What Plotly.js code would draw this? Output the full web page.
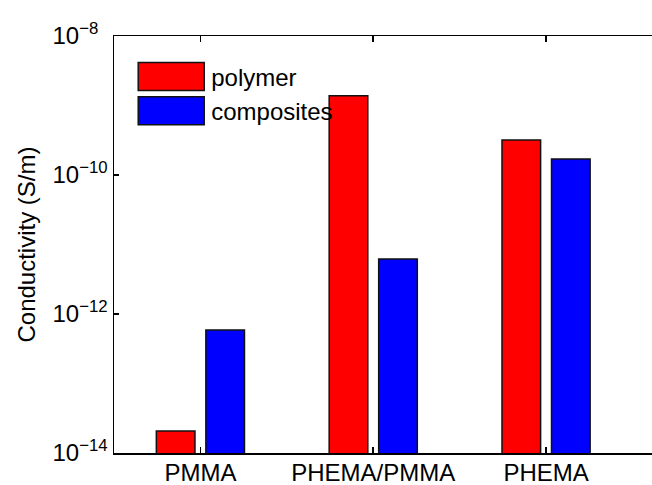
<!DOCTYPE html>
<html>
<head>
<meta charset="utf-8">
<script src="https://cdn.plot.ly/plotly-3.0.1.min.js"></script>
<style>html,body{margin:0;padding:0;background:#fff;}#chart{width:652px;height:485px;}</style>
</head>
<body>
<div id="chart"></div>
<script>
var categories = ["PMMA", "PHEMA/PMMA", "PHEMA"];
var polymerValues = [2.07e-14, 1.38e-9, 3.2e-10];
var compositeValues = [5.9e-13, 6.2e-12, 1.7e-10];
var seriesNames = ["polymer", "composites"];
var yTickValues = [1e-14, 1e-12, 1e-10, 1e-8];
var yTickLabels = ["10<sup>\u221214</sup>", "10<sup>\u221212</sup>", "10<sup>\u221210</sup>", "10<sup>\u22128\u2007</sup>"];

var FONT = "Liberation Sans, Arial, Helvetica, sans-serif";

var traces = [
  {type: "bar", name: seriesNames[0], x: categories, y: polymerValues,
   marker: {color: "#ff0000", line: {color: "#111", width: 1.5}}},
  {type: "bar", name: seriesNames[1], x: categories, y: compositeValues,
   marker: {color: "#0000ff", line: {color: "#111", width: 1.5}}}
];

var layout = {
  width: 652, height: 485,
  margin: {l: 114, r: 0, t: 36, b: 32, autoexpand: false},
  paper_bgcolor: "#fff", plot_bgcolor: "#fff",
  font: {family: FONT, size: 24, color: "#000"},
  barmode: "group", bargap: 0.427, bargroupgap: 0.22,
  xaxis: {type: "category", range: [-0.5, 2.613], showline: true, linecolor: "#000", linewidth: 1.5,
          mirror: "ticks", ticks: "inside", ticklen: 6, tickcolor: "#000", tickwidth: 1.5,
          ticklabelstandoff: -2,
          showgrid: false, zeroline: false, tickfont: {size: 24, family: FONT}},
  yaxis: {type: "log", range: [-14, -8], tickvals: yTickValues, ticktext: yTickLabels,
          showline: true, linecolor: "#000", linewidth: 1.5, mirror: false,
          ticks: "inside", ticklen: 5, tickcolor: "#000", tickwidth: 1.5,
          showgrid: false, zeroline: false, tickfont: {size: 24, family: FONT},
          title: {text: "Conductivity (S/m)", font: {size: 24, family: FONT}, standoff: 10}},
  legend: {x: 0.032, y: 0.956, xanchor: "left", yanchor: "top", bgcolor: "rgba(0,0,0,0)",
           borderwidth: 0, itemwidth: 70, font: {size: 24, family: FONT}, tracegroupgap: 0},
  showlegend: true
};

var gd = document.getElementById("chart");
Plotly.newPlot(gd, traces, layout, {displayModeBar: false, staticPlot: true}).then(function () {
  var pts = gd.querySelectorAll(".legend .legendpoints path");
  pts.forEach(function (p) { p.setAttribute("d", "M33,14H-33V-14H33Z"); });
});
</script>
</body>
</html>
